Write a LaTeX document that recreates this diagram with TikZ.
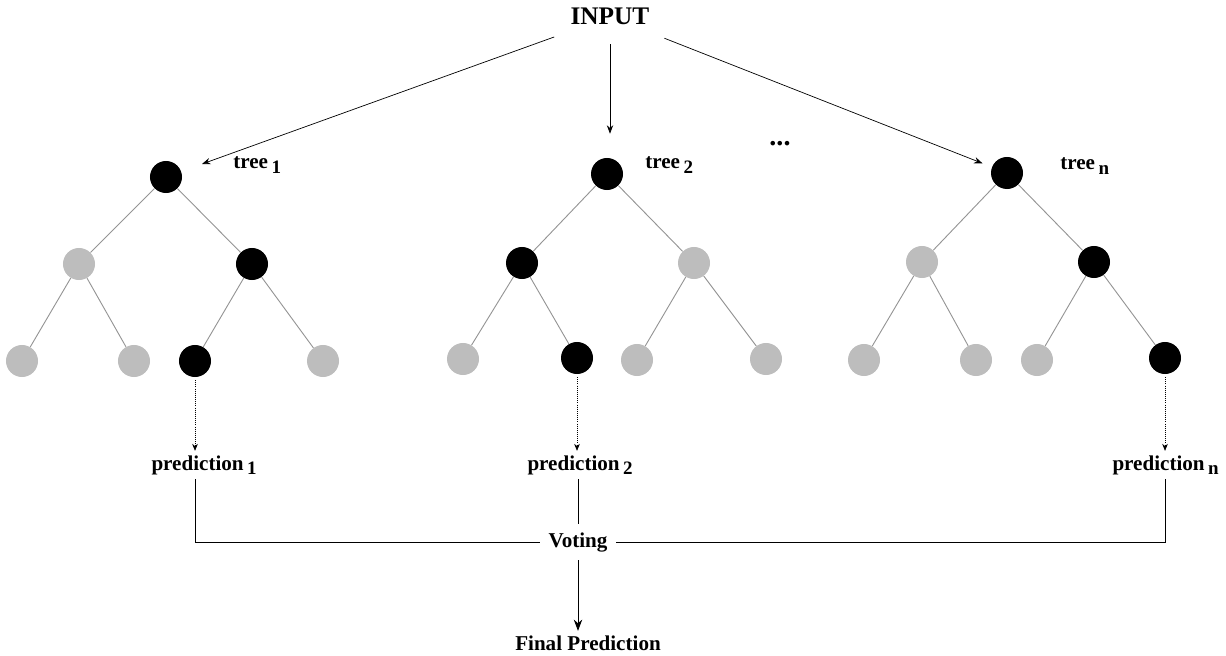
\documentclass[tikz,border=0pt]{standalone}
\usepackage{fontspec}
\setmainfont{Liberation Serif}
\usetikzlibrary{arrows.meta,positioning}
\definecolor{leafgray}{HTML}{BDBDBD}
\definecolor{edgegray}{HTML}{949494}
\newcommand{\idx}[1]{\,\raisebox{-.5ex}{\fontsize{13.5}{14}\selectfont #1}}

\begin{document}
\begin{tikzpicture}[x=0.025cm,y=-0.025cm,
    on/.style={circle,fill=black,inner sep=0pt,minimum size=0.8cm},
    off/.style={circle,fill=leafgray,inner sep=0pt,minimum size=0.8cm},
    edge/.style={edgegray,line width=.65pt},
    lbl/.style={font=\fontsize{15}{18}\selectfont\bfseries,inner sep=3pt},
    feed/.style={-{Stealth[length=6pt,width=4.5pt]},line width=.5pt}]
  \useasboundingbox (0,0) rectangle (1226,656);

  \node[font=\fontsize{18}{21}\selectfont\bfseries,anchor=base] (inp) at (610,25) {INPUT};

  % tree 1
  \node[on]  (t1)   at (166,177) {};
  \node[off] (t1l)  at (79,264)  {};
  \node[on]  (t1r)  at (252,264) {};
  \node[off] (t1ll) at (22,361)  {};
  \node[off] (t1lr) at (134,361) {};
  \node[on]  (t1rl) at (195,361) {};
  \node[off] (t1rr) at (323,361) {};
  \node[lbl,anchor=base west,inner sep=0pt] (n1) at (233,169) {tree\idx{1}};

  % tree 2
  \node[on]  (t2)   at (607,174) {};
  \node[on]  (t2l)  at (522,263) {};
  \node[off] (t2r)  at (694,263) {};
  \node[off] (t2ll) at (463,359) {};
  \node[on]  (t2lr) at (577,358) {};
  \node[off] (t2rl) at (637,360) {};
  \node[off] (t2rr) at (766,359) {};
  \node[lbl,anchor=base west,inner sep=0pt] (n2) at (645,169) {tree\idx{2}};

  % tree n
  \node[on]  (tn)   at (1007,173) {};
  \node[off] (tnl)  at (922,262)  {};
  \node[on]  (tnr)  at (1094,262) {};
  \node[off] (tnll) at (864,360)  {};
  \node[off] (tnlr) at (976,360)  {};
  \node[off] (tnrl) at (1037,360) {};
  \node[on]  (tnrr) at (1165,358) {};
  \node[lbl,anchor=base west,inner sep=0pt] (nn) at (1060,170) {tree\idx{n}};

  \node[font=\fontsize{20}{22}\selectfont\bfseries,anchor=base] (dots) at (780,146) {...};

  \foreach \t in {t1,t2,tn}{
    \draw[edge] (\t) -- (\t l);
    \draw[edge] (\t) -- (\t r);
    \draw[edge] (\t l) -- (\t ll);
    \draw[edge] (\t l) -- (\t lr);
    \draw[edge] (\t r) -- (\t rl);
    \draw[edge] (\t r) -- (\t rr);
  }

  % input to the trees
  \draw[feed,shorten <=0.5cm,shorten >=0.55cm] (inp) -- (t1);
  \draw[feed,shorten <=0.35cm,shorten >=0.6cm] (inp) -- (inp |- t2.north);
  \draw[feed,shorten <=0.55cm,shorten >=0.25cm] (inp) -- (tn);

  % predictions
  \node[lbl,anchor=base west] (p1) at (147,470) {prediction\idx{1}};
  \node[lbl,anchor=base west] (p2) at (523,470) {prediction\idx{2}};
  \node[lbl,anchor=base west] (pn) at (1108,470) {prediction\idx{n}};

  \draw[-{Stealth[length=5pt,width=4pt]},densely dotted,line width=.5pt,shorten <=2pt] (t1rl) -- (t1rl |- p1.north);
  \draw[-{Stealth[length=5pt,width=4pt]},densely dotted,line width=.5pt,shorten <=2pt] (t2lr) -- (t2lr |- p2.north);
  \draw[-{Stealth[length=5pt,width=4pt]},densely dotted,line width=.5pt,shorten <=2pt] (tnrr) -- (tnrr |- pn.north);

  % voting
  \node[lbl,anchor=base,inner sep=6pt] (vote) at (578,547) {Voting};
  \node[lbl,anchor=base] (fin) at (588,650) {Final Prediction};

  \draw[line width=.5pt] (p1.south -| t1rl) |- (vote.west);
  \draw[line width=.5pt] (pn.south -| tnrr) |- (vote.east);
  \draw[line width=.5pt] (p2.south -| vote) -- (vote.north);
  \draw[-{Stealth[length=8pt,width=6pt]},line width=.6pt] (vote.south) -- (vote.south |- fin.north);
\end{tikzpicture}
\end{document}
